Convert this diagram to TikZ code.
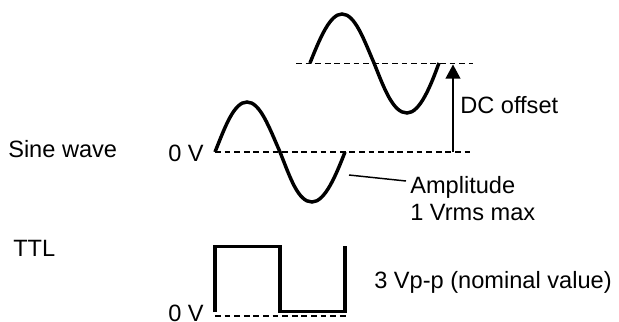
\documentclass[tikz,border=0pt]{standalone}
\usepackage{fontspec}
\setmainfont{Liberation Sans}
\usetikzlibrary{arrows.meta}
\tikzset{
  wave/.style={line width=2.6pt,line join=miter,line cap=butt},
  zero/.style={line width=1.2pt,dash pattern=on 4.4pt off 2.8pt},
  thin line/.style={line width=1.1pt},
  lab/.style={inner sep=0pt,font=\fontsize{17.7pt}{20pt}\selectfont,anchor=base west},
}
\begin{document}
\begin{tikzpicture}[x=0.75pt,y=-0.75pt]
\useasboundingbox (0,0) rectangle (619,322);
% dashed zero lines
\coordinate (d1a) at (296,63.5); \coordinate (d1b) at (473,63.5);
\coordinate (d2a) at (215,152); \coordinate (d2b) at (471,152);
\coordinate (d3a) at (215,316); \coordinate (d3b) at (346,316);
\draw[zero] (d1a) -- (d1b);
\draw[zero] (d2a) -- (d2b);
\draw[zero] (d3a) -- (d3b);
% sine waves
\draw[wave] (310,63) .. controls (320,38) and (330,14) .. (342,14)
  .. controls (355,14) and (364,40) .. (374,63)
  .. controls (384,88) and (393,113) .. (407,113)
  .. controls (420,113) and (431,85) .. (439,63);
\draw[wave] (215,152) .. controls (225,127) and (234,102) .. (247,102)
  .. controls (260,102) and (269,127) .. (280,152)
  .. controls (290,177) and (298,202) .. (312,202)
  .. controls (325,202) and (336,175) .. (345,152);
% square wave
\draw[wave] (215,312) -- (215,246.5) -- (280,246.5) -- (280,311.5) -- (345,311.5) -- (345,246);
% labels
\node[lab] (sine) at (8,157) {Sine wave};
\node[lab] (zv1) at (168,161) {0 V};
\node[lab] (dc) at (460,113) {DC offset};
\node[lab] (amp) at (410,193) {Amplitude};
\node[lab] (rms) at (410,220) {1 Vrms max};
\node[lab] (ttl) at (13,256) {TTL};
\node[lab] (vpp) at (374,288) {3 Vp-p (nominal value)};
\node[lab] (zv2) at (168,321) {0 V};
% connectors
\coordinate (base) at (453,152);
\coordinate (tip) at (453,64.5);
\coordinate (lead) at (349,175);
\coordinate (leadend) at (406,181);
\draw[thin line,-{Triangle[length=10.5pt,width=11pt]}] (base) -- (tip);
\draw[thin line] (lead) -- (leadend);
\end{tikzpicture}
\end{document}
